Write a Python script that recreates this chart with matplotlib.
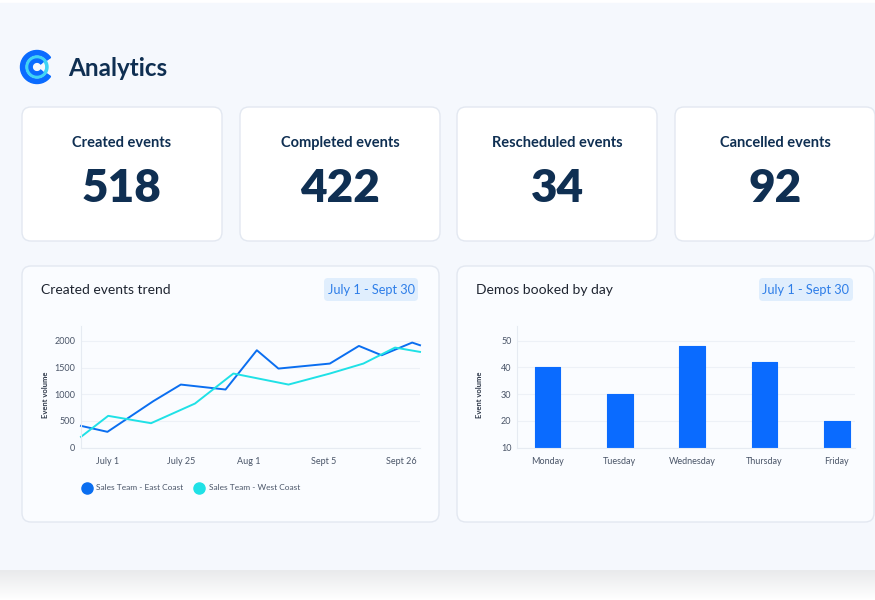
#!/usr/bin/env python
# -*- coding: utf-8 -*-

import numpy as np
import matplotlib
matplotlib.use('Agg')
from matplotlib import pyplot as plt
from matplotlib.colors import LinearSegmentedColormap
from matplotlib.patches import FancyBboxPatch, Wedge
from matplotlib.lines import Line2D

# KPI cards
kpi_titles = ["Created events", "Completed events", "Rescheduled events", "Cancelled events"]
kpi_values = [518, 422, 34, 92]

# created events trend (x = day offset from start of period)
east_days = [0, 7.1, 19.4, 26.8, 38.8, 47.2, 53.0, 66.8, 74.6, 80.7, 88.9, 91]
east_values = [406, 294, 869, 1181, 1088, 1825, 1481, 1575, 1906, 1731, 1969, 1919]
west_days = [0, 7.3, 18.8, 30.6, 40.9, 55.7, 66.8, 75.8, 84.3, 91]
west_values = [200, 594, 456, 825, 1388, 1181, 1388, 1575, 1875, 1794]
trend_tick_days = [7, 27, 45, 65, 86]
trend_tick_labels = ["July 1", "July 25", "Aug 1", "Sept 5", "Sept 26"]
trend_yticks = [0, 500, 1000, 1500, 2000]

# demos booked by day
weekdays = ["Monday", "Tuesday", "Wednesday", "Thursday", "Friday"]
demos = [40, 30, 48, 42, 20]
demo_yticks = [10, 20, 30, 40, 50]

NAVY = '#0f2f52'
BLUE = '#0a6bff'
CYAN = '#1fe1e6'
TICK = '#4a5568'
FONT = 'Lato'
W, H = 875, 600


def card(ax, x, y, w, h, face, edge='#e3e8f1', r=9):
    ax.add_patch(FancyBboxPatch((x, y), w, h, boxstyle="round,pad=0,rounding_size=%d" % r,
                                fc=face, ec=edge, lw=1.0, zorder=2))


def draw_background(fig):
    ax = fig.add_axes([0, 0, 1, 1], zorder=0)
    ax.axis('off')

    ax.add_patch(plt.Rectangle((0, 0), W, H, color='white', zorder=0))
    ax.add_patch(plt.Rectangle((0, 3), W, 567, color='#f5f8fd', zorder=1))
    # soft shadow under the panel
    grad = np.linspace(0, 1, 30).reshape(-1, 1)
    shadow = LinearSegmentedColormap.from_list('sh', ['#e9eaec', '#ffffff'])
    ax.imshow(grad, extent=(0, W, 600, 570), cmap=shadow, aspect='auto', zorder=1)
    ax.set_xlim(0, W)
    ax.set_ylim(H, 0)

    # logo
    ax.add_patch(Wedge((37, 67), 16.5, 35, 325, width=4.5, color=BLUE, zorder=3))
    ax.add_patch(Wedge((37, 67), 11, 0, 360, width=2.2, color='#3fd3f5', zorder=3))
    ax.add_patch(Wedge((37, 67), 8, 40, 320, width=3.2, color=BLUE, zorder=3))
    ax.text(68, 68, "Analytics", fontsize=17.5, fontweight='bold', color=NAVY,
            family=FONT, va='center', ha='left', zorder=3)

    # KPI cards
    lefts = [22, 240, 457, 675]
    for x, t, v in zip(lefts, kpi_titles, kpi_values):
        card(ax, x, 107, 200, 134, 'white')
        ax.text(x + 100, 143, t, fontsize=10.5, fontweight='bold', color=NAVY,
                family=FONT, ha='center', va='center', zorder=3)
        ax.text(x + 100, 189, str(v), fontsize=33, fontweight='heavy', color=NAVY,
                family=FONT, ha='center', va='center', zorder=3)

    # chart cards
    for x, t in [(22, "Created events trend"), (457, "Demos booked by day")]:
        card(ax, x, 266, 417, 256, '#fafcff')
        ax.text(x + 19, 290, t, fontsize=10, color='#1e2430', family=FONT,
                ha='left', va='center', zorder=3)
        px = x + 302
        ax.add_patch(FancyBboxPatch((px, 278), 94, 23, boxstyle="round,pad=0,rounding_size=4",
                                    fc='#e0eefd', ec='none', zorder=3))
        ax.text(px + 47, 290, "July 1 - Sept 30", fontsize=9.2, color='#2e7ee8',
                family=FONT, ha='center', va='center', zorder=4)
        ax.text(x + 23, 395, "Event volume", fontsize=5.5, fontweight='bold', color='#2d3748',
                family=FONT, rotation=90, ha='center', va='center', zorder=3)
    return ax


def style_axes(ax):
    ax.set_facecolor('none')
    for s in ['top', 'right']:
        ax.spines[s].set_visible(False)
    for s in ['left', 'bottom']:
        ax.spines[s].set_color('#e6ebf2')
        ax.spines[s].set_linewidth(0.8)
    ax.grid(True, 'major', 'y', color='#edf1f7', lw=0.8)
    ax.set_axisbelow(True)
    ax.tick_params(length=0, labelsize=6.5, labelcolor=TICK)
    ax.tick_params(axis='x', pad=7)
    ax.tick_params(axis='y', pad=4)
    for lab in ax.get_xticklabels() + ax.get_yticklabels():
        lab.set_family(FONT)


def plot_trend(fig):
    ax = fig.add_axes([81 / W, 1 - 447.5 / H, 339 / W, 121.5 / H], zorder=2)
    ax.plot(east_days, east_values, color='#0a6ef0', lw=1.4, solid_joinstyle='round', clip_on=False)
    ax.plot(west_days, west_values, color=CYAN, lw=1.4, solid_joinstyle='round', clip_on=False)
    ax.set_xlim(0, 91)
    ax.set_ylim(0, 2280)
    ax.set_xticks(trend_tick_days)
    ax.set_xticklabels(trend_tick_labels)
    ax.set_yticks(trend_yticks)
    style_axes(ax)

    handles = [Line2D([], [], ls='none', marker='o', ms=8, color='#0a6ef0'),
               Line2D([], [], ls='none', marker='o', ms=8, color=CYAN)]
    fig.legend(handles, ["Sales Team - East Coast", "Sales Team - West Coast"],
               loc='center left', bbox_to_anchor=(74 / W, 1 - 488 / H), ncol=2, frameon=False,
               handletextpad=0.55, columnspacing=1.3, handlelength=1.2,
               prop={'family': FONT, 'size': 6}, labelcolor=TICK)


def plot_demos(fig):
    ax = fig.add_axes([517 / W, 1 - 447.5 / H, 338 / W, 121.5 / H], zorder=2)
    x = np.arange(len(weekdays))
    ax.bar(x, np.array(demos) - 10, bottom=10, width=0.355, color=BLUE,
           edgecolor=BLUE, lw=0.8, joinstyle='round')
    ax.set_xlim(-0.42, 4.25)
    ax.set_ylim(10, 55.5)
    ax.set_xticks(x)
    ax.set_xticklabels(weekdays)
    ax.set_yticks(demo_yticks)
    style_axes(ax)


def main():
    fig = plt.figure(figsize=(8.75, 6), dpi=100)
    draw_background(fig)
    plot_trend(fig)
    plot_demos(fig)
    fig.savefig('out.png', dpi=100)


if __name__ == "__main__":
    main()
